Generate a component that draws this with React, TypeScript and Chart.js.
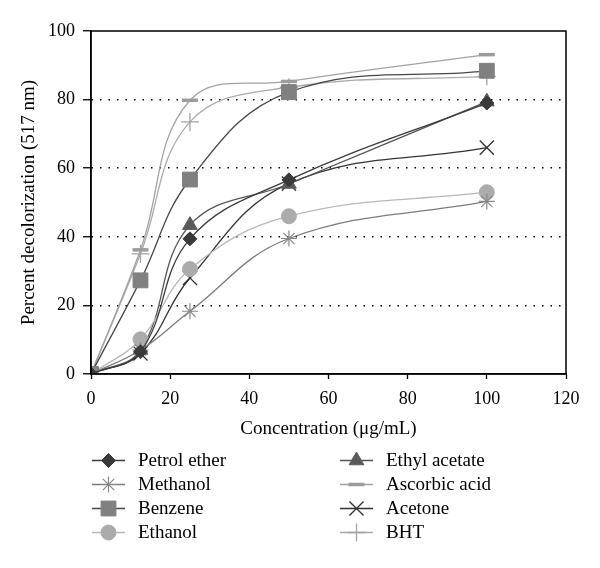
import React, { useEffect, useRef } from "react";
import { Chart, registerables } from "chart.js";
import { drawPoint } from "chart.js/helpers";

Chart.register(...registerables);

const concentrations = [0, 12.5, 25, 50, 100];
const xTicks = [0, 20, 40, 60, 80, 100, 120];
const yTicks = [0, 20, 40, 60, 80, 100];

const petrolEther = [0, 6.5, 39.4, 56.6, 79];
const methanol = [0, 7, 18.3, 39.5, 50.3];
const benzene = [0, 27.3, 56.7, 82.2, 88.4];
const ethanol = [0, 10.1, 30.6, 46, 53];
const ethylAcetate = [0, 7, 43.4, 55.4, 79.4];
const ascorbicAcid = [0, 36.2, 79.8, 85.3, 93.1];
const acetone = [0, 6, 28, 55.5, 66];
const bht = [0, 35, 73.5, 83.6, 86.8];

const seriesNames = [
  "Petrol ether",
  "Methanol",
  "Benzene",
  "Ethanol",
  "Ethyl acetate",
  "Ascorbic acid",
  "Acetone",
  "BHT",
];
const seriesValues = [petrolEther, methanol, benzene, ethanol, ethylAcetate, ascorbicAcid, acetone, bht];

const styles = [
  { line: "#3c3c3c", point: "#3a3a3a", pointStyle: "rectRot", radius: 7, pbw: 1 },
  { line: "#7c7c7c", point: "#888888", pointStyle: "star", radius: 8, pbw: 1.2 },
  { line: "#474747", point: "#808080", pointStyle: "rect", radius: 10.5, pbw: 1 },
  { line: "#b8b8b8", point: "#ababab", pointStyle: "circle", radius: 7.5, pbw: 1 },
  { line: "#555555", point: "#5a5a5a", pointStyle: "triangle", radius: 8.5, pbw: 1 },
  { line: "#a3a3a3", point: "#9c9c9c", pointStyle: "line", radius: 8, pbw: 3.5 },
  { line: "#333333", point: "#333333", pointStyle: "crossRot", radius: 10, pbw: 1.3 },
  { line: "#ababab", point: "#a3a3a3", pointStyle: "cross", radius: 9, pbw: 1.3 },
];

const FONT = "'Liberation Serif', 'Times New Roman', serif";

const framePlugin = {
  id: "frameAndLegend",
  afterDraw(chart: any) {
    const { ctx, chartArea } = chart;
    ctx.save();
    ctx.strokeStyle = "#000";
    ctx.lineWidth = 1.5;
    ctx.strokeRect(chartArea.left, chartArea.top, chartArea.right - chartArea.left, chartArea.bottom - chartArea.top);

    // two-column legend
    const colX = [92, 340];
    const rowY = [460.5, 484.5, 508.5, 532.5];
    ctx.font = "19px " + FONT;
    ctx.textBaseline = "middle";
    ctx.textAlign = "left";
    seriesNames.forEach((name, i) => {
      const col = Math.floor(i / 4);
      const row = i % 4;
      const x0 = colX[col];
      const y = rowY[row];
      const st = styles[i];
      ctx.strokeStyle = st.line;
      ctx.lineWidth = 1.3;
      ctx.beginPath();
      ctx.moveTo(x0, y);
      ctx.lineTo(x0 + 33, y);
      ctx.stroke();
      ctx.fillStyle = st.point;
      ctx.strokeStyle = st.point;
      ctx.lineWidth = st.pbw;
      drawPoint(ctx, { pointStyle: st.pointStyle, radius: st.radius, rotation: 0, borderWidth: st.pbw }, x0 + 16.5, y);
      ctx.fillStyle = "#000";
      ctx.fillText(name, x0 + 46, y + 1);
    });
    ctx.restore();
  },
};

export default function App() {
  const ref = useRef<HTMLCanvasElement | null>(null);
  useEffect(() => {
    if (!ref.current) return;
    const datasets = seriesNames.map((name, i) => ({
      label: name,
      data: concentrations.map((c, j) => ({ x: c, y: seriesValues[i][j] })),
      borderColor: styles[i].line,
      borderWidth: 1.3,
      backgroundColor: styles[i].point,
      pointBackgroundColor: styles[i].point,
      pointBorderColor: styles[i].point,
      pointBorderWidth: styles[i].pbw,
      pointStyle: styles[i].pointStyle,
      pointRadius: styles[i].radius,
      tension: 0.4,
      fill: false,
    }));
    const chart = new Chart(ref.current, {
      type: "line",
      data: { datasets },
      options: {
        animation: false,
        responsive: false,
        devicePixelRatio: 1,
        layout: { padding: { top: 31, right: 34, bottom: 128, left: 0 } },
        plugins: { legend: { display: false }, tooltip: { enabled: false } },
        scales: {
          x: {
            type: "linear",
            min: 0,
            max: 120,
            afterBuildTicks: (s: any) => {
              s.ticks = xTicks.map((v) => ({ value: v }));
            },
            afterFit: (s: any) => {
              s.height = 66;
            },
            grid: { drawOnChartArea: false, drawTicks: true, tickLength: 5, color: "#000", tickColor: "#000", tickWidth: 1.3 },
            border: { display: true, color: "#000", width: 1.5 },
            ticks: { color: "#000", font: { family: FONT, size: 18 }, padding: 9, maxRotation: 0 },
            title: {
              display: true,
              text: "Concentration (μg/mL)",
              color: "#000",
              font: { family: FONT, size: 19 },
              padding: { top: 0, bottom: 0 },
            },
          },
          y: {
            type: "linear",
            min: 0,
            max: 100,
            afterBuildTicks: (s: any) => {
              s.ticks = yTicks.map((v) => ({ value: v }));
            },
            afterFit: (s: any) => {
              s.width = 91;
            },
            grid: {
              drawOnChartArea: true,
              drawTicks: true,
              tickLength: 8,
              lineWidth: 1.5,
              color: (c: any) => (c.tick && (c.tick.value === 0 || c.tick.value === 100) ? "rgba(0,0,0,0)" : "#000"),
              tickColor: "#000",
              tickWidth: 1.3,
              tickBorderDash: [],
            },
            border: { display: true, color: "#000", width: 1.5, dash: [1.5, 7] },
            ticks: { color: "#000", font: { family: FONT, size: 18 }, padding: 8 },
            title: {
              display: true,
              text: "Percent decolorization (517 nm)",
              color: "#000",
              font: { family: FONT, size: 19 },
              padding: { top: 18, bottom: 0 },
            },
          },
        },
      },
      plugins: [framePlugin],
    } as any);
    return () => chart.destroy();
  }, []);
  return (
    <div style={{ position: "fixed", left: 0, top: 0, width: 600, height: 568, background: "#fff" }}>
      <canvas ref={ref} width={600} height={568} />
    </div>
  );
}
